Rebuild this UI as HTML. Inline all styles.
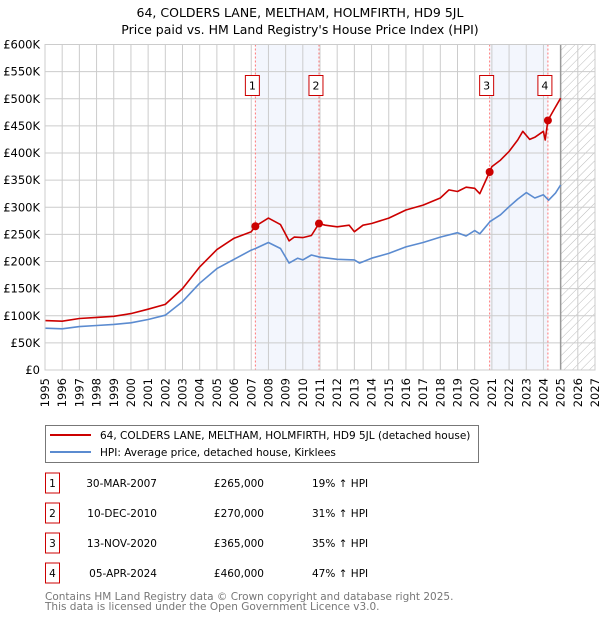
<!DOCTYPE html>
<html><head><meta charset="utf-8"><style>
body{margin:0;width:600px;height:620px;background:#fff;font-family:"DejaVu Sans","Liberation Sans",sans-serif;overflow:hidden}
svg{position:absolute;left:0;top:0}
</style></head><body>
<svg id="c" width="600" height="620">
<text x="300" y="17" text-anchor="middle" font-size="12.5">64, COLDERS LANE, MELTHAM, HOLMFIRTH, HD9 5JL</text>
<text x="300" y="34" text-anchor="middle" font-size="12.5">Price paid vs. HM Land Registry's House Price Index (HPI)</text>
<defs><pattern id="h" width="6" height="6" patternUnits="userSpaceOnUse" patternTransform="rotate(45)"><line x1="0" y1="0" x2="0" y2="6" stroke="#bbb" stroke-width="1"/></pattern></defs>
<g id="plot"></g>
<g>
<rect x="45.5" y="425.5" width="433" height="37" fill="#fff" stroke="#777"/>
<line x1="50" y1="435" x2="91" y2="435" stroke="#cc0000" stroke-width="2"/>
<text x="100" y="439" font-size="10.5">64, COLDERS LANE, MELTHAM, HOLMFIRTH, HD9 5JL (detached house)</text>
<line x1="50" y1="452" x2="91" y2="452" stroke="#5b8bd0" stroke-width="2"/>
<text x="100" y="456" font-size="10.5">HPI: Average price, detached house, Kirklees</text>
</g>
<g id="tbl" font-size="10.5"></g>
<text x="45" y="600" font-size="10.5" fill="#777">Contains HM Land Registry data © Crown copyright and database right 2025.</text>
<text x="45" y="610" font-size="10.5" fill="#777">This data is licensed under the Open Government Licence v3.0.</text>
</svg>
<script>
const hpiYears=[1995,1996,1997,1998,1999,2000,2001,2002,2003,2004,2005,2006,2007,2007.25,2008,2008.7,2009.2,2009.7,2010,2010.5,2011,2012,2013,2013.3,2014,2015,2016,2017,2018,2019,2019.5,2020,2020.3,2020.9,2021.5,2022,2022.5,2023,2023.5,2024,2024.3,2024.7,2025];
const hpiValues=[77,76,80,82,84,87,93,101,126,160,187,204,221,224,235,224,197,206,203,212,208,204,203,197,206,215,227,235,245,253,247,257,251,274,286,301,315,327,317,323,313,326,341];
const priceYears=[1995,1996,1997,1998,1999,2000,2001,2002,2003,2004,2005,2006,2007,2007.24,2008,2008.7,2009.2,2009.5,2010,2010.5,2010.94,2011.3,2012,2012.7,2013,2013.5,2014,2015,2016,2017,2018,2018.5,2019,2019.5,2020,2020.3,2020.87,2021,2021.5,2022,2022.5,2022.8,2023.2,2023.5,2024,2024.1,2024.26,2024.6,2025];
const priceValues=[91,90,95,97,99,104,112,121,150,190,222,243,255,265,280,268,238,245,244,248,270,267,264,267,255,267,270,280,295,304,317,332,329,337,335,325,365,375,387,403,424,440,425,429,440,424,460,479,501];
const saleLabels=["1","2","3","4"];
const saleYears=[2007.24,2010.94,2020.87,2024.26];
const saleValues=[265,270,365,460];
const saleDates=["30-MAR-2007","10-DEC-2010","13-NOV-2020","05-APR-2024"];
const salePrices=["£265,000","£270,000","£365,000","£460,000"];
const saleHpi=["19% ↑ HPI","31% ↑ HPI","35% ↑ HPI","47% ↑ HPI"];
const yTicks=[0,50,100,150,200,250,300,350,400,450,500,550,600];
const yTickLabels=["£0","£50K","£100K","£150K","£200K","£250K","£300K","£350K","£400K","£450K","£500K","£550K","£600K"];
const xStart=1995,xEnd=2027;
const L=45,R=595,T=44.5,B=370;
const X=y=>L+(y-xStart)*(R-L)/(xEnd-xStart);
const Y=v=>B-v*(B-T)/600;
const NS="http://www.w3.org/2000/svg";
const g=document.getElementById('plot');
function mk(t,a,p){const e=document.createElementNS(NS,t);for(const k in a)e.setAttribute(k,a[k]);(p||g).appendChild(e);return e;}
let s=mk('rect',{x:X(saleYears[0]),y:T,width:X(saleYears[1])-X(saleYears[0]),height:B-T,fill:'#f3f6fd'});


s=mk('rect',{x:X(saleYears[2]),y:T,width:X(saleYears[3])-X(saleYears[2]),height:B-T,fill:'#f3f6fd'});


s=mk('rect',{x:X(2025),y:T,width:R-X(2025),height:B-T,fill:'url(#h)'});


for(let yr=xStart;yr<=xEnd;yr++){
 let l=mk('line',{x1:X(yr),x2:X(yr),y1:T,y2:B,stroke:'#ccc','stroke-width':1});
 
 
 let t=mk('text',{x:0,y:0,'font-size':11.5,transform:`translate(${X(yr)+4},${B+8}) rotate(-90)`,'text-anchor':'end'});
 t.textContent=yr;
 
 
}
yTicks.forEach((v,i)=>{
 let l=mk('line',{x1:L,x2:R,y1:Y(v),y2:Y(v),stroke:'#ccc','stroke-width':1});
 
 
 let t=mk('text',{x:40,y:Y(v)+4,'font-size':11.5,'text-anchor':'end'});
 t.textContent=yTickLabels[i];
 
 
});
let nl=mk('line',{x1:X(2025),x2:X(2025),y1:T,y2:B,stroke:'#999','stroke-width':1.5});


saleYears.forEach((yr,i)=>{
 let l=mk('line',{x1:X(yr),x2:X(yr),y1:T,y2:B,stroke:'#f77','stroke-width':1,'stroke-dasharray':'2,2'});
 
 
 let bx=X(yr)-3;
 let r=mk('rect',{x:bx-7,y:75.5,width:14,height:20,fill:'#fff',stroke:'#c00'});
 
 
 let t=mk('text',{x:bx,y:89.5,'font-size':11,'text-anchor':'middle'});
 t.textContent=saleLabels[i];
 
 
});
function path(xs,vs,col,name){
 let d=xs.map((x,i)=>(i?'L':'M')+X(x).toFixed(1)+','+Y(vs[i]).toFixed(1)).join('');
 let p=mk('path',{d:d,fill:'none',stroke:col,'stroke-width':1.6,'stroke-linejoin':'round'});
 
 
}
path(hpiYears,hpiValues,'#5b8bd0','hpi-line');
path(priceYears,priceValues,'#cc0000','price-line');
saleYears.forEach((yr,i)=>{
 let c=mk('circle',{cx:X(yr),cy:Y(saleValues[i]),r:4,fill:'#cc0000'});
 
 
});
let ax=mk('rect',{x:L,y:T,width:R-L,height:B-T,fill:'none',stroke:'#ccc'});


const tb=document.getElementById('tbl');
saleLabels.forEach((lab,i)=>{
 const cy=483+i*30;
 let r=mk('rect',{x:45.5,y:cy-10,width:14,height:20,fill:'#fff',stroke:'#c00'},tb);
 
 
 let t=mk('text',{x:52.5,y:cy+4,'text-anchor':'middle'},tb);t.textContent=lab;
 
 
 t=mk('text',{x:157,y:cy+4,'text-anchor':'end'},tb);t.textContent=saleDates[i];
 
 
 t=mk('text',{x:264,y:cy+4,'text-anchor':'end'},tb);t.textContent=salePrices[i];
 
 
 t=mk('text',{x:312,y:cy+4},tb);t.textContent=saleHpi[i];
 
 
});
</script>
</body></html>
